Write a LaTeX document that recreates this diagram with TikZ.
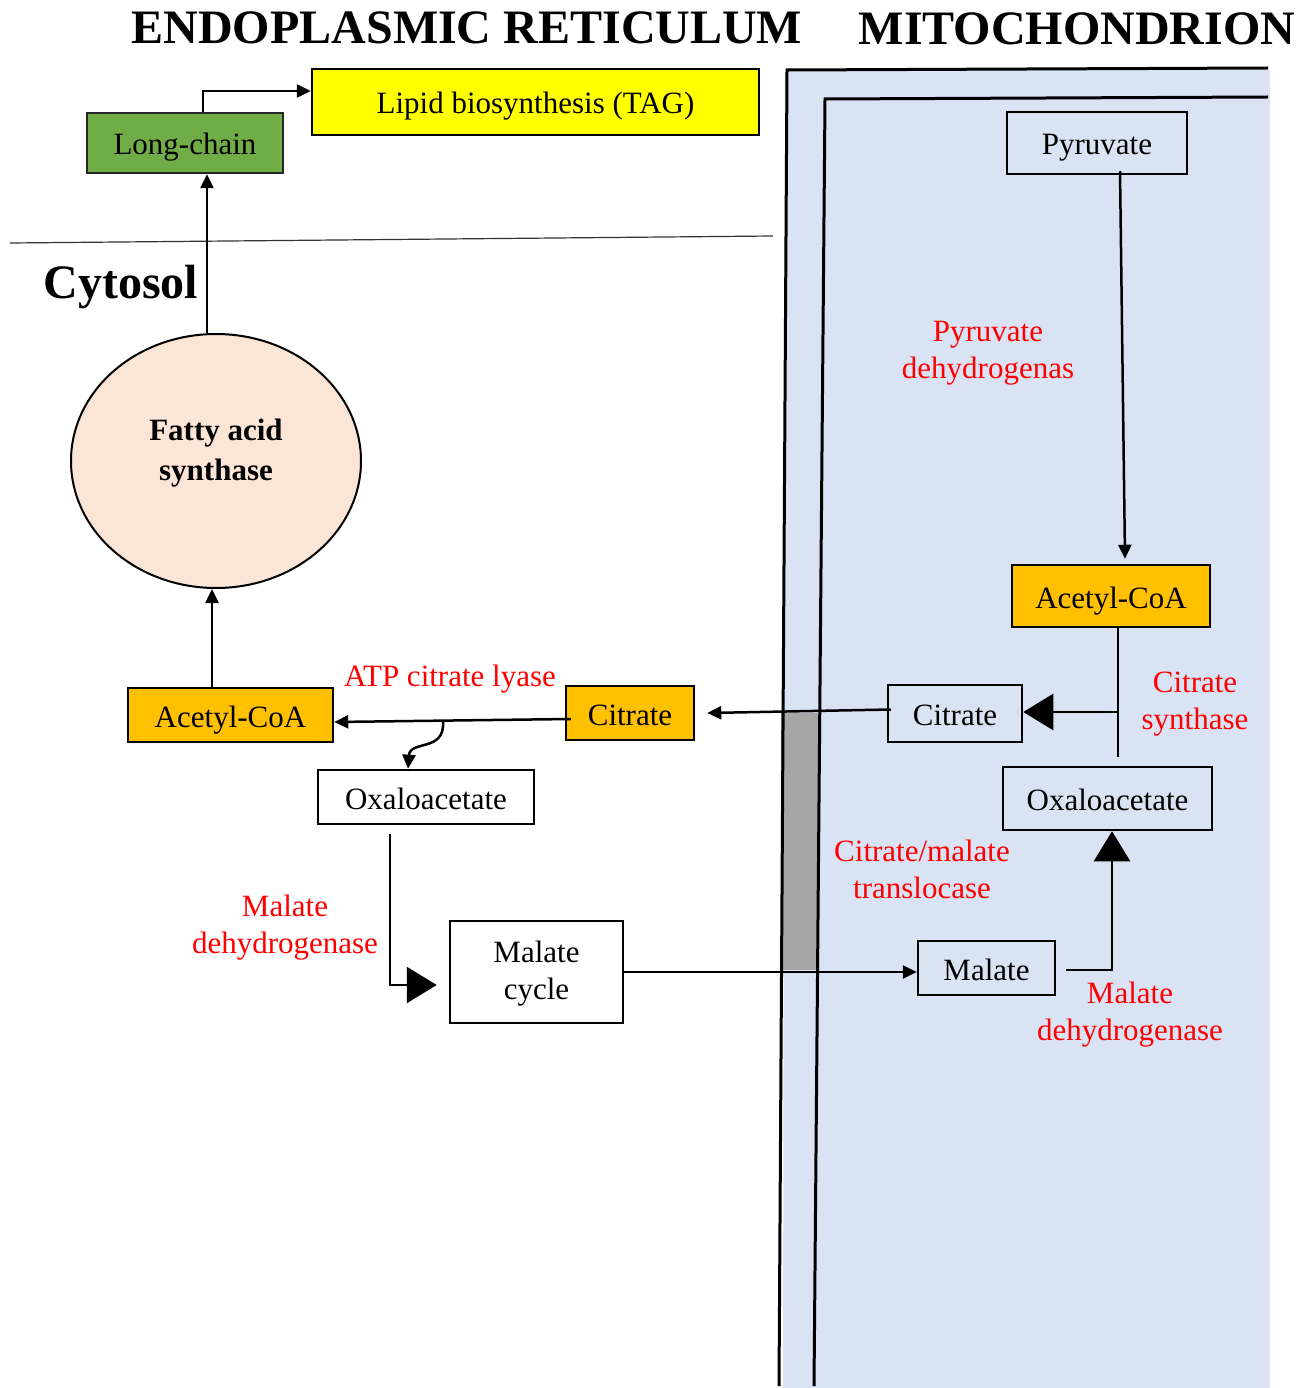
\documentclass[tikz,border=0pt]{standalone}
\usepackage{fontspec}
\setmainfont{Liberation Serif}
\usetikzlibrary{arrows.meta,shapes.geometric}

\definecolor{mitoblue}{HTML}{DAE3F3}
\definecolor{accoa}{HTML}{FFC000}
\definecolor{lcgreen}{HTML}{70AD47}
\definecolor{tagyellow}{HTML}{FFFF00}
\definecolor{fasfill}{HTML}{FBE5D6}
\definecolor{poregray}{HTML}{A6A6A6}
\definecolor{enzred}{HTML}{FF0000}

\tikzset{
  txt/.style={font=\fontsize{31}{37}\selectfont},
  frame/.style={txt, draw=black, line width=2.5pt, inner sep=0pt, align=center},
  box/.style={frame, text height=27pt, text depth=3pt},
  enz/.style={txt, text=enzred, align=center, inner sep=0pt},
  title/.style={font=\fontsize{48}{54}\selectfont\bfseries, inner sep=0pt},
  ln/.style={line width=2.5pt},
  arr/.style={ln, -{Triangle[length=14pt,width=13pt]}},
  bigarr/.style={ln, -{Triangle[length=30pt,width=36pt]}},
  membrane/.style={line width=3pt}
}

\begin{document}
\begin{tikzpicture}[x=1pt,y=-1pt]
\useasboundingbox (0,0) rectangle (1310,1388);

% mitochondrial matrix and membranes
\fill[mitoblue] (785,70) -- (1270,70) -- (1270,1388) -- (783,1388) -- cycle;
\fill[poregray] (781,713) rectangle (818,970);
\draw[membrane] (1268,68) -- (787,70) -- (779,1386);
\draw[membrane] (1268,97) -- (825,99) -- (814,1386);

% ER / cytosol boundary
\draw[line width=1.2pt, black!80] (10,243) -- (773,236);

% compartment titles
\node[title] (ertitle) at (467,28) {ENDOPLASMIC RETICULUM};
\node[title] (mitotitle) at (1077,29) {MITOCHONDRION};
\node[title] (cytosol) at (121,287) {Cytosol};

% metabolites and enzymes
\node[box, fill=lcgreen, draw=black!85, minimum width=196, minimum height=60] (longchain) at (185,143) {Long-chain};
\node[box, fill=tagyellow, minimum width=447, minimum height=66] (lipid) at (535.5,102) {Lipid biosynthesis (TAG)};
\node[ellipse, draw=black, line width=2pt, fill=fasfill, minimum width=290, minimum height=254, inner sep=0pt] (fas) at (216,461) {};
\node[font=\fontsize{31}{40}\selectfont\bfseries, align=center, inner sep=0pt] (fastext) at (216,453) {Fatty acid\\synthase};
\node[box, fill=accoa, minimum width=205, minimum height=54] (acoaL) at (230.5,715) {Acetyl-CoA};
\node[box, fill=accoa, minimum width=128, minimum height=54] (citL) at (630,713) {Citrate};
\node[box, fill=white, minimum width=216, minimum height=54] (oaaL) at (426,797) {Oxaloacetate};
\node[frame, fill=white, minimum width=173, minimum height=102] (malcyc) at (536.5,972) {};
\node[txt, align=center, inner sep=0pt] (malcyctext) at (536.5,974) {Malate\\cycle};
\node[box, minimum width=137, minimum height=54] (malate) at (986.5,968) {Malate};
\node[box, minimum width=209, minimum height=63] (oaaR) at (1107.5,798.5) {Oxaloacetate};
\node[box, minimum width=134, minimum height=57] (citR) at (955,713.5) {Citrate};
\node[box, fill=accoa, minimum width=198, minimum height=62] (acoaR) at (1111,596) {Acetyl-CoA};
\node[box, minimum width=180, minimum height=62] (pyr) at (1097,143) {Pyruvate};

% enzyme labels
\node[enz] (lyase) at (450,679) {ATP citrate lyase};
\node[enz] (pdh) at (988,353) {Pyruvate\\dehydrogenas};
\node[enz] (cs) at (1195,704) {Citrate\\synthase};
\node[enz] (cmt) at (922,869) {Citrate/malate\\translocase};
\node[enz] (mdhL) at (285,928) {Malate\\dehydrogenase};
\node[enz] (mdhR) at (1130,1015) {Malate\\dehydrogenase};

% junction points on reaction lines
\coordinate (lyasept) at (443,722);
\coordinate (csjoin) at (1118,712);
\coordinate (csend) at (1118,757);

% cytosolic reactions
\draw[arr] ([xshift=18pt]longchain.north) |- ([yshift=11pt]lipid.west);
\draw[arr] ([xshift=-9pt]fas.north) -- ([xshift=-9pt]fas.north |- longchain.south);
\draw[arr] ([xshift=-18.5pt]acoaL.north) -- ([xshift=-4pt]fas.south);
\draw[arr] ([xshift=6pt,yshift=-6pt]citL.west) -- ([yshift=-7pt]acoaL.east);
\draw[arr] (lyasept) .. controls (445,752) and (410,740) .. ([xshift=-18pt]oaaL.north);
\draw[bigarr, shorten >=12pt] ([xshift=-36pt,yshift=-9pt]oaaL.south) |- ([yshift=-13pt]malcyc.west);
\draw[arr] (malcyc.east) -- (malcyc.east -| malate.west);

% mitochondrial reactions
\draw[arr] ([xshift=23pt,yshift=4pt]pyr.south) -- ([xshift=14pt,yshift=5pt]acoaR.north);
\draw[ln] (csjoin |- acoaR.south) -- (csend);
\draw[bigarr] (csjoin) -- (citR.east |- csjoin);
\draw[bigarr] ([xshift=10pt,yshift=-2pt]malate.east) -| ([xshift=4.5pt]oaaR.south);
\draw[arr] ([xshift=4pt,yshift=4pt]citR.west) -- ([xshift=12pt]citL.east);
\end{tikzpicture}
\end{document}
